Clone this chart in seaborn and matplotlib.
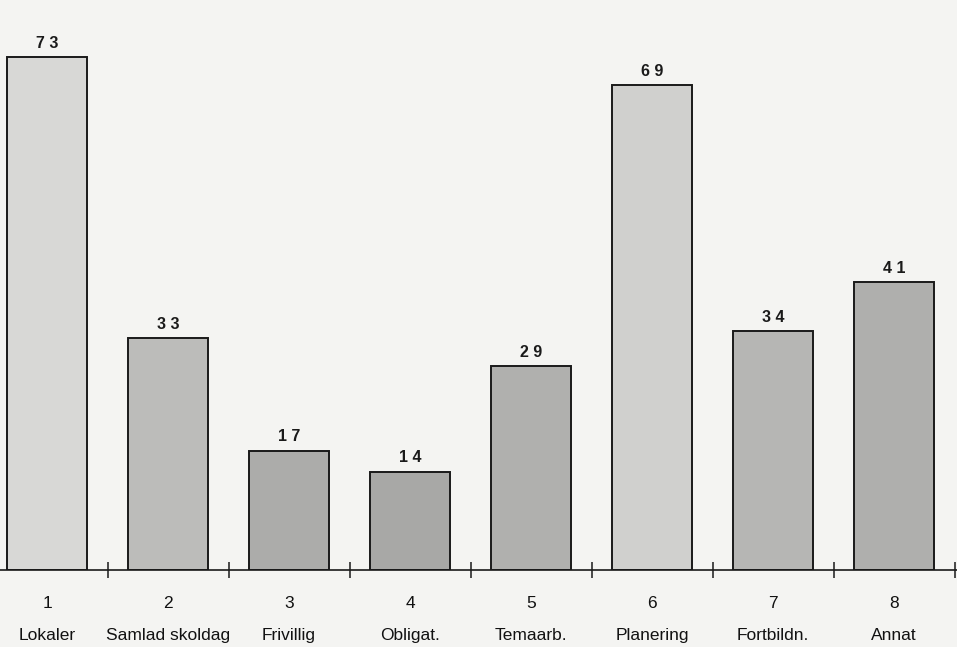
import matplotlib
matplotlib.use('Agg')
import matplotlib.pyplot as plt
import seaborn as sns
import pandas as pd
import numpy as np

# Data
numbers = ['1', '2', '3', '4', '5', '6', '7', '8']
names = ['Lokaler', 'Samlad skoldag', 'Frivillig', 'Obligat.',
         'Temaarb.', 'Planering', 'Fortbildn.', 'Annat']
values = [73, 33, 17, 14, 29, 69, 34, 41]
# grey shades of the scanned bars
shades = ['#d8d8d6', '#bcbcba', '#acacaa', '#a8a8a6',
          '#b0b0ae', '#d0d0ce', '#b6b6b4', '#afafad']

df = pd.DataFrame({'cat': numbers, 'value': values})

sns.set_style('white')
plt.rcParams['font.family'] = ['Liberation Sans', 'DejaVu Sans']

paper = '#f4f4f2'
fig = plt.figure(figsize=(9.57, 6.47), dpi=100, facecolor=paper)
ax = fig.add_axes([0, 77 / 647, 1, 562 / 647])
ax.set_facecolor(paper)

sns.barplot(data=df, x='cat', y='value', hue='cat', palette=shades,
            legend=False, width=0.66, edgecolor='#1a1a1a', linewidth=1.4,
            saturation=1, ax=ax)

ax.set_xlim(-47 / 121, 910 / 121)
ax.set_ylim(0, 80)

# value labels above bars, letter spaced like the original
for i, v in enumerate(values):
    ax.text(i, v + 0.9, ' '.join(str(v)), ha='center', va='bottom',
            fontsize=11.5, fontweight='bold', color='#1a1a1a')

# axis line with small crossing ticks between the categories
for s in ['left', 'top', 'right']:
    ax.spines[s].set_visible(False)
ax.spines['bottom'].set_color('#1a1a1a')
ax.spines['bottom'].set_linewidth(1.2)
ax.set_yticks([])
ax.set_xticks(np.arange(len(values)) + 0.5)
ax.set_xticklabels([])
ax.tick_params(axis='x', direction='inout', length=11, width=1.1,
               color='#1a1a1a', bottom=True)
ax.set_xlabel('')
ax.set_ylabel('')

# category number and name under each bar
for i, (n, name) in enumerate(zip(numbers, names)):
    ax.text(i, -33 / 7.02, n, ha='center', va='center', fontsize=12.5,
            color='#111111', transform=ax.transData, clip_on=False)
    ax.text(i, -65 / 7.02, name, ha='center', va='center', fontsize=12.5,
            color='#111111', transform=ax.transData, clip_on=False)

fig.savefig('out.png', dpi=100, facecolor=paper)
